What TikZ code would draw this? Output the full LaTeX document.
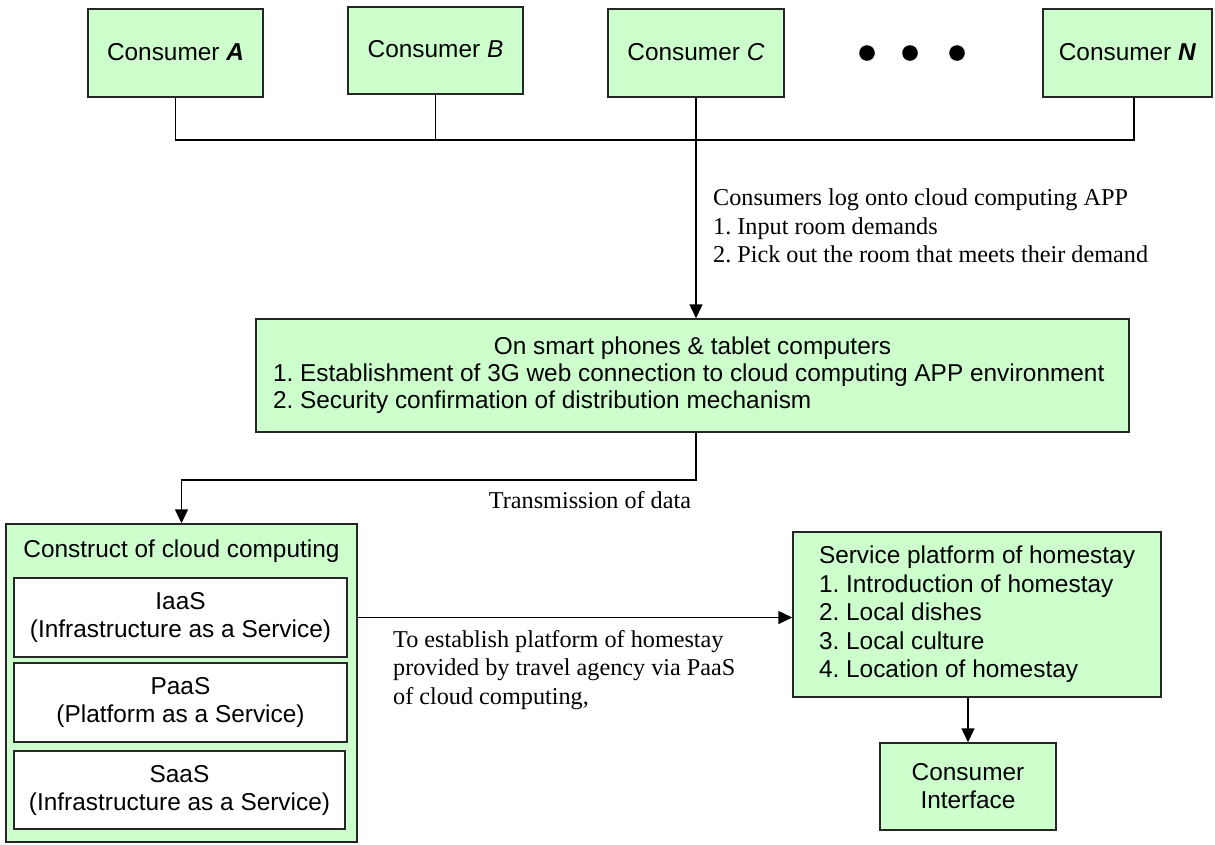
\documentclass[tikz,border=0pt]{standalone}
\usepackage{fontspec}
\setmainfont{Liberation Serif}
\setsansfont{Liberation Sans}
\usetikzlibrary{arrows.meta,calc}
\definecolor{boxgreen}{RGB}{204,255,204}
\frenchspacing
\begin{document}
\frenchspacing
\begin{tikzpicture}[x=1pt,y=-1pt,
  box/.style={draw=black!85,line width=1.5pt,fill=boxgreen,inner sep=0pt,align=center,
    font=\sffamily\fontsize{24.4}{28}\selectfont},
  wbox/.style={box,fill=white},
  conn/.style={line width=1.6pt,black},
  arr/.style={conn,-{Triangle[length=14pt,width=13pt]}},
  lbl/.style={font=\rmfamily\fontsize{24.2}{28.5}\selectfont,align=left,inner sep=0pt}]
\useasboundingbox (0,0) rectangle (1215,844);

% consumers
\node[box,minimum width=175pt,minimum height=88pt] (A) at (175.5,53) {\raisebox{3pt}{Consumer \textbf{\textit{A}}}};
\node[box,minimum width=175pt,minimum height=87pt] (B) at (435.5,50.5) {\raisebox{3pt}{Consumer \textit{B}}};
\node[box,minimum width=176pt,minimum height=88pt] (C) at (696,53) {\raisebox{3pt}{Consumer \textit{C}}};
\node[box,minimum width=169pt,minimum height=88pt] (N) at (1127.5,53) {\raisebox{3pt}{Consumer \textbf{\textit{N}}}};
\fill (867,53) circle[radius=7.8pt];
\fill (910,53) circle[radius=7.8pt];
\fill (957,53) circle[radius=7.8pt];

% smart phones box
\node[box,minimum width=873pt,minimum height=113pt,font=\sffamily\fontsize{24.4}{27}\selectfont] (mid) at (692.5,375.5)
  {\parbox{839pt}{\frenchspacing\centering On smart phones \& tablet computers\par\raggedright
   1. Establishment of 3G web connection to cloud computing APP environment\\
   2. Security confirmation of distribution mechanism}};

% cloud construct
\node[box,minimum width=351pt,minimum height=318pt] (cc) at (181.5,683) {};
\node[inner sep=0pt,font=\sffamily\fontsize{24.4}{28}\selectfont] (cctitle) at (181.5,551) {Construct of cloud computing};
\node[wbox,minimum width=333pt,minimum height=79pt] (iaas) at (180.5,617.5) {IaaS\\(Infrastructure as a Service)};
\node[wbox,minimum width=333pt,minimum height=79pt] (paas) at (180.5,702.5) {PaaS\\(Platform as a Service)};
\node[wbox,minimum width=331pt,minimum height=78pt] (saas) at (179.5,790) {SaaS\\(Infrastructure as a Service)};

% service platform
\node[box,minimum width=368pt,minimum height=165pt,align=left,font=\sffamily\fontsize{24.4}{28.5}\selectfont] (sp) at (977,614.5)
  {Service platform of homestay\\1. Introduction of homestay\\2. Local dishes\\3. Local culture\\4. Location of homestay};
\node[box,minimum width=176pt,minimum height=87pt] (ci) at (968,786.5) {Consumer\\Interface};

% labels
\node[lbl,anchor=west] (lab1) at (713,226) {Consumers log onto cloud computing APP\\1. Input room demands\\2. Pick out the room that meets their demand};
\node[lbl] (lab2) at (590,500) {Transmission of data};
\node[lbl,anchor=west] (lab3) at (393,670) {To establish platform of homestay\\provided by travel agency via PaaS\\of cloud computing,};

% connectors
\coordinate (bus) at (0,140);
\draw[conn] (A.south) -- (A.south |- bus) -- ([xshift=6.5pt]N.south |- bus) -- ([xshift=6.5pt]N.south);
\draw[conn] (B.south) -- (B.south |- bus);
\draw[arr] (C.south) -- (C.south |- mid.north);
\draw[arr] (C.south |- mid.south) -- ++(0,47) -| (cc.north);
\draw[arr] (cc.east |- iaas.east) -- (sp.west |- iaas.east);
\draw[arr] (ci.north |- sp.south) -- (ci.north);
\end{tikzpicture}
\end{document}
